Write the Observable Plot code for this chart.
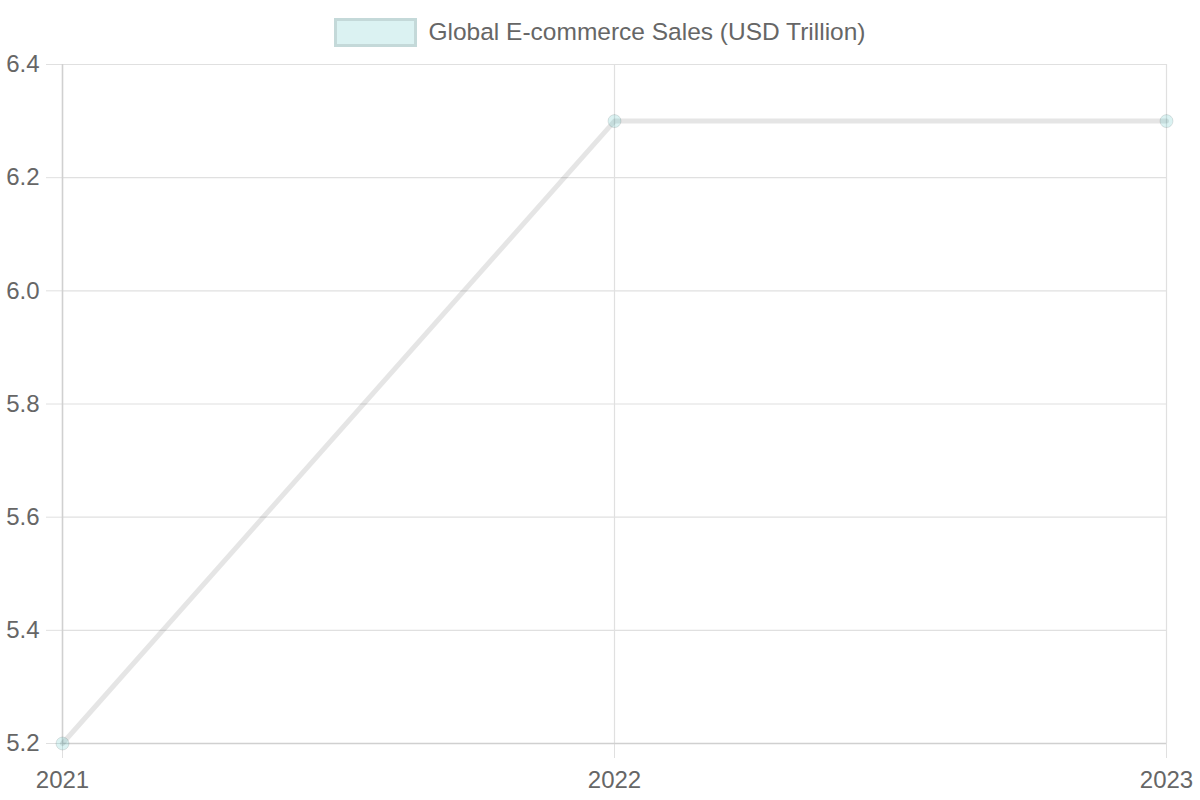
<!DOCTYPE html>
<html>
<head>
<meta charset="utf-8">
<script src="https://cdn.jsdelivr.net/npm/d3@7"></script>
<script src="https://cdn.jsdelivr.net/npm/@observablehq/plot@0.6"></script>
<style>
  html, body { margin: 0; padding: 0; background: #fff; }
  body { width: 1200px; height: 800px; overflow: hidden; font-family: "Liberation Sans", Arial, Helvetica, sans-serif; }
  #legend { height: 50px; display: flex; align-items: center; justify-content: center; padding-top: 14px; box-sizing: border-box; color: #666; font-size: 24.5px; }
  #legend .box { width: 77px; height: 23px; background: rgba(75,192,192,0.2); border: 3px solid rgba(0,0,0,0.1); margin-right: 11px; }
  #chart svg { display: block; }
</style>
</head>
<body>
<div id="legend"><span class="box"></span><span id="legend-label"></span></div>
<div id="chart"></div>
<script>
const seriesName = "Global E-commerce Sales (USD Trillion)";
const years = [2021, 2022, 2023];
const sales = [5.2, 6.3, 6.3];
const yTicks = [5.2, 5.4, 5.6, 5.8, 6.0, 6.2, 6.4];

document.getElementById("legend-label").textContent = seriesName;

const data = years.map((y, i) => ({year: y, value: sales[i]}));

const gridColor = "#e0e0e0";
const axisColor = "#d0d0d0";
const chart = Plot.plot({
  width: 1200,
  height: 750,
  marginTop: 14,
  marginBottom: 57,
  marginLeft: 62,
  marginRight: 34,
  style: {fontFamily: "Liberation Sans, Arial, Helvetica, sans-serif", fontSize: "24px", color: "#666", background: "#fff"},
  x: {domain: [2021, 2023]},
  y: {domain: [5.2, 6.4]},
  marks: [
    Plot.gridX(years, {stroke: gridColor, strokeOpacity: 1, strokeWidth: 1.2}),
    Plot.gridY(yTicks, {stroke: gridColor, strokeOpacity: 1, strokeWidth: 1.2}),
    Plot.axisX({ticks: years, tickFormat: d => String(d), tickSize: 15, tickPadding: 12, stroke: gridColor, strokeOpacity: 1, fill: "#666", label: null}),
    Plot.axisY({ticks: yTicks, tickFormat: d3.format(".1f"), tickSize: 16, tickPadding: 7, stroke: gridColor, strokeOpacity: 1, fill: "#666", label: null}),
    Plot.ruleX([2021], {stroke: axisColor, strokeWidth: 1.5}),
    Plot.ruleY([5.2], {stroke: axisColor, strokeWidth: 1.5}),
    Plot.line(data, {x: "year", y: "value", stroke: "rgba(0,0,0,0.1)", strokeWidth: 5}),
    Plot.dot(data, {x: "year", y: "value", r: 6.5, fill: "rgba(75,192,192,0.2)", stroke: "rgba(0,0,0,0.1)", strokeWidth: 1})
  ]
});
document.getElementById("chart").appendChild(chart);
</script>
</body>
</html>
